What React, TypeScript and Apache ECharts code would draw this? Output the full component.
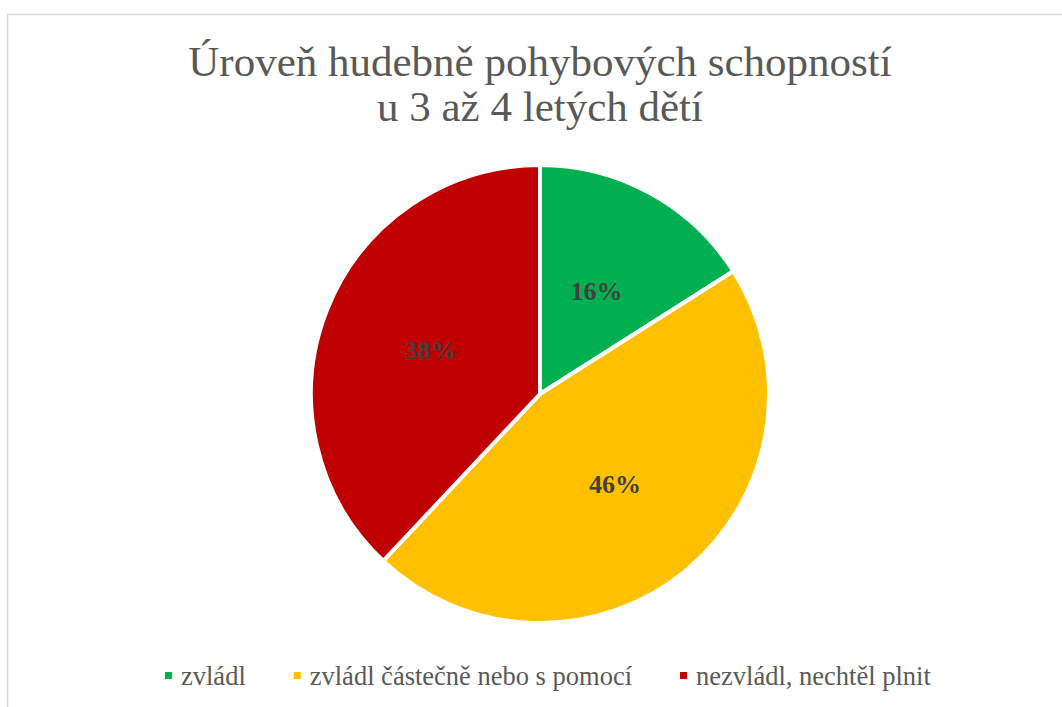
import React, { useEffect, useRef } from "react";
import * as echarts from "echarts";

const categories = ["zvládl", "zvládl částečně nebo s pomocí", "nezvládl, nechtěl plnit"];
const values = [16, 46, 38];
const colors = ["#00B050", "#FFC000", "#C00000"];
const titleLines = ["Úroveň hudebně pohybových schopností", "u 3 až 4 letých dětí"];

export default function App() {
  const ref = useRef<HTMLDivElement>(null);
  useEffect(() => {
    if (!ref.current) return;
    const chart = echarts.init(ref.current, undefined, { renderer: "svg" });
    const font = "Liberation Serif";
    chart.setOption({
      animation: false,
      backgroundColor: "#ffffff",
      graphic: [
        {
          type: "rect",
          shape: { x: 7.5, y: 14.5, width: 1100, height: 800 },
          style: { fill: "none", stroke: "#d9d9d9", lineWidth: 1.5 },
          silent: true,
          z: -10,
        },
      ],
      title: {
        text: titleLines.join("\n"),
        left: 540,
        textAlign: "center",
        top: 39,
        padding: 0,
        textStyle: {
          fontFamily: font,
          fontSize: 43,
          fontWeight: "normal",
          color: "#595959",
          lineHeight: 45,
        },
      },
      legend: {
        bottom: 18,
        left: 163,
        padding: 0,
        itemWidth: 9,
        itemHeight: 9,
        itemGap: 46,
        icon: "rect",
        textStyle: { fontFamily: font, fontSize: 26.5, color: "#595959", padding: [0, 0, 0, 3] },
        data: categories,
      },
      series: [
        {
          type: "pie",
          center: [540, 394],
          radius: 229,
          startAngle: 90,
          clockwise: true,
          data: categories.map((c, i) => ({ name: c, value: values[i], itemStyle: { color: colors[i] } })),
          itemStyle: { borderColor: "#ffffff", borderWidth: 4 },
          label: {
            show: true,
            position: "inside",
            formatter: (p: any) => `${Math.round(p.percent)}%`,
            fontFamily: font,
            fontSize: 26,
            fontWeight: "bold",
            color: "#404040",
          },
          labelLine: { show: false },
          emphasis: { disabled: true },
        },
      ],
    });
    return () => chart.dispose();
  }, []);
  return (
    <div
      ref={ref}
      style={{ position: "absolute", left: 0, top: 0, width: 1062, height: 707 }}
    />
  );
}
